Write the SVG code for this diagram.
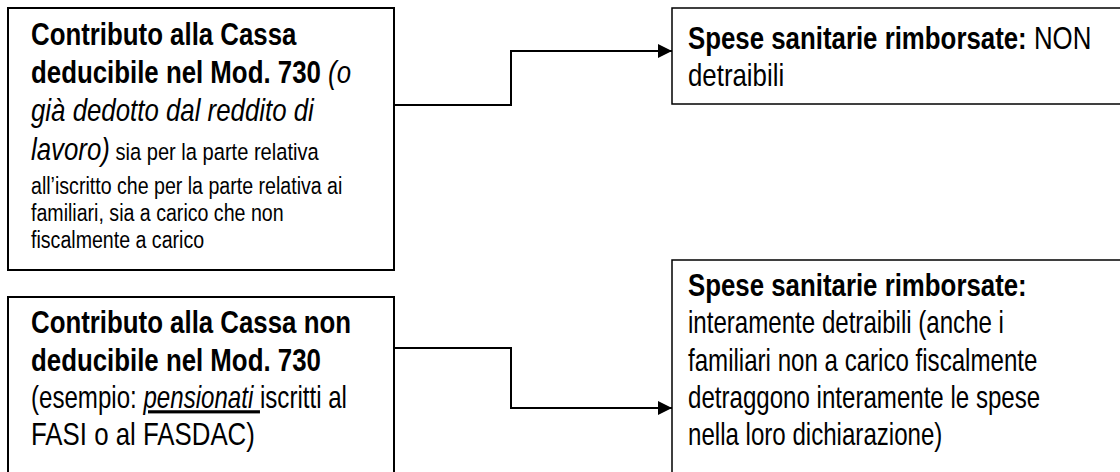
<svg xmlns="http://www.w3.org/2000/svg" width="1120" height="472" viewBox="0 0 1120 472">
  <style>
    .box { fill: #ffffff; stroke: #000000; stroke-width: 2; }
    .box-r { fill: #ffffff; stroke: #000000; stroke-width: 1.5; }
    .t { font-family: "Liberation Sans", Arial, sans-serif; font-size: 31.5px; fill: #000000; }
    .s { font-size: 24.5px; }
    .b { font-weight: bold; }
    .i { font-style: italic; }
    .u { text-decoration: underline; }
    .link { fill: none; stroke: #000000; stroke-width: 2; }
  </style>
  <defs>
    <marker id="arrow" markerUnits="userSpaceOnUse" markerWidth="16" markerHeight="14" refX="14" refY="7" orient="auto">
      <path d="M0,0 L14,7 L0,14 Z" fill="#000000"/>
    </marker>
  </defs>

  <!-- deductible contribution -->
  <g id="node-deducibile">
    <rect class="box" x="8" y="8" width="386" height="262"/>
    <g transform="translate(31,0) scale(0.82,1)">
      <text class="t b" x="0" y="45">Contributo alla Cassa</text>
      <text class="t" x="0" y="83"><tspan class="b">deducibile nel Mod. 730 </tspan><tspan class="i">(o</tspan></text>
      <text class="t i" x="0" y="121">già dedotto dal reddito di</text>
      <text class="t" x="0" y="160"><tspan class="i">lavoro)</tspan><tspan class="s"> sia per la parte relativa</tspan></text>
    </g>
    <g transform="translate(31,0) scale(0.8,1)">
      <text class="t s" x="0" y="194">all’iscritto che per la parte relativa ai</text>
      <text class="t s" x="0" y="221">familiari, sia a carico che non</text>
      <text class="t s" x="0" y="248">fiscalmente a carico</text>
    </g>
  </g>

  <!-- non-deductible contribution -->
  <g id="node-non-deducibile">
    <rect class="box" x="8" y="297" width="386" height="190"/>
    <g transform="translate(31,0) scale(0.82,1)">
      <text class="t b" x="0" y="333">Contributo alla Cassa non</text>
      <text class="t b" x="0" y="371">deducibile nel Mod. 730</text>
      <text class="t" x="0" y="445">FASI o al FASDAC)</text>
    </g>
    <g transform="translate(31,0) scale(0.765,1)">
      <text class="t" x="0" y="408">(esempio: <tspan class="i u">pensionati </tspan>iscritti al</text>
    </g>
  </g>

  <!-- outcome: not deductible -->
  <g id="node-non-detraibili">
    <rect class="box-r" x="672" y="8" width="470" height="96"/>
    <g transform="translate(688,0) scale(0.82,1)">
      <text class="t" x="0" y="49"><tspan class="b">Spese sanitarie rimborsate:</tspan> NON</text>
      <text class="t" x="0" y="86">detraibili</text>
    </g>
  </g>

  <!-- outcome: fully deductible -->
  <g id="node-detraibili">
    <rect class="box-r" x="672" y="260" width="470" height="230"/>
    <g transform="translate(688,0) scale(0.82,1)">
      <text class="t b" x="0" y="296">Spese sanitarie rimborsate:</text>
    </g>
    <g transform="translate(688,0) scale(0.765,1)">
      <text class="t" x="0" y="333">interamente detraibili (anche i</text>
      <text class="t" x="0" y="371">familiari non a carico fiscalmente</text>
      <text class="t" x="0" y="408">detraggono interamente le spese</text>
      <text class="t" x="0" y="445">nella loro dichiarazione)</text>
    </g>
  </g>

  <g id="connectors">
    <path class="link" d="M394,105 H511 V51 H672" marker-end="url(#arrow)"/>
    <path class="link" d="M394,348 H511 V408 H672" marker-end="url(#arrow)"/>
  </g>
</svg>
